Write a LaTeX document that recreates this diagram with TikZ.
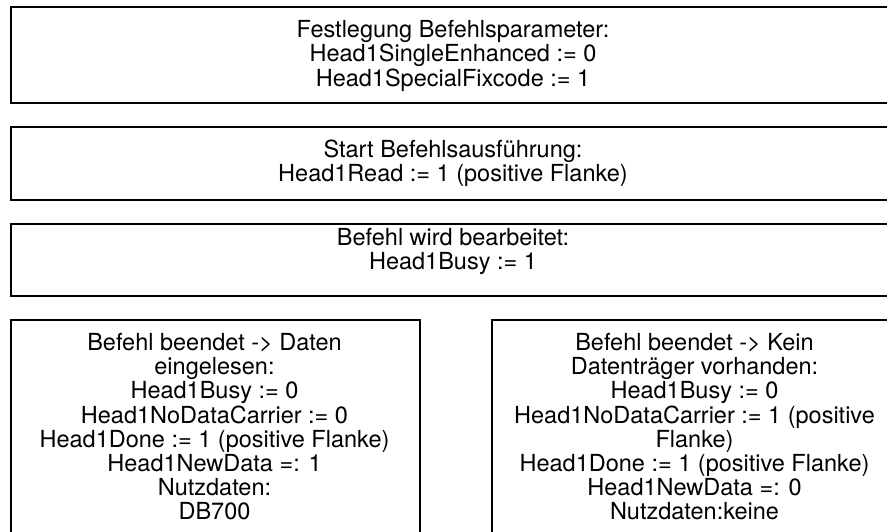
\documentclass[tikz,border=0pt]{standalone}
\usepackage{fontspec}
\setmainfont{TeX Gyre Heros}
\begin{document}
\begin{tikzpicture}[x=1pt,y=-1pt,
  box/.style={draw=black,line width=2pt,rectangle,inner sep=0pt,anchor=north west},
  txt/.style={anchor=base,inner sep=0pt,font=\fontsize{23.5}{23.6}\selectfont}]
\useasboundingbox (0,0) rectangle (887,531);
\clip (0,0) rectangle (887,531);
\renewcommand\arraystretch{1}
% boxes
\node[box,minimum width=886pt,minimum height=96pt] (b1) at (10,6) {};
\node[box,minimum width=886pt,minimum height=73pt] (b2) at (10,126) {};
\node[box,minimum width=886pt,minimum height=72pt] (b3) at (10,223) {};
\node[box,minimum width=409pt,minimum height=230pt] (b4) at (10,319) {};
\node[box,minimum width=407pt,minimum height=230pt] (b5) at (491,319) {};
% texts
\node[txt] (t1) at (453,37) {\begin{tabular}[t]{@{}c@{}}Festlegung Befehlsparameter:\\Head1SingleEnhanced := 0\\Head1SpecialFixcode := 1\end{tabular}};
\node[txt] (t2) at (453,157) {\begin{tabular}[t]{@{}c@{}}Start Befehlsausführung:\\Head1Read := 1 (positive Flanke)\end{tabular}};
\node[txt] (t3) at (453,245) {\begin{tabular}[t]{@{}c@{}}Befehl wird bearbeitet:\\Head1Busy := 1\end{tabular}};
\node[txt] (t4) at (214.5,350) {\begin{tabular}[t]{@{}c@{}}Befehl beendet -> Daten\\eingelesen:\\Head1Busy := 0\\Head1NoDataCarrier := 0\\Head1Done := 1 (positive Flanke)\\Head1NewData =: 1\\Nutzdaten:\\DB700\end{tabular}};
\node[txt] (t5) at (694.5,350) {\begin{tabular}[t]{@{}c@{}}Befehl beendet -> Kein\\Datenträger vorhanden:\\Head1Busy := 0\\Head1NoDataCarrier := 1 (positive\\Flanke)\\Head1Done := 1 (positive Flanke)\\Head1NewData =: 0\\Nutzdaten:keine\end{tabular}};
\end{tikzpicture}
\end{document}
